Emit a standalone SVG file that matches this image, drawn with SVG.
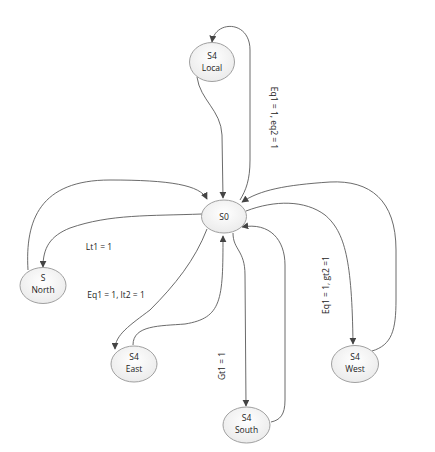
<svg xmlns="http://www.w3.org/2000/svg" width="435" height="452" viewBox="0 0 435 452">
  <defs>
    <radialGradient id="nodeFill" cx="50%" cy="40%" r="60%">
      <stop offset="0" stop-color="#ffffff"/>
      <stop offset="1" stop-color="#ebebeb"/>
    </radialGradient>
    <marker id="arrow" viewBox="0 0 10 10" refX="9" refY="5" markerWidth="7" markerHeight="7" markerUnits="userSpaceOnUse" orient="auto">
      <path d="M0,0 L10,5 L0,10 z" fill="#444"/>
    </marker>
  </defs>
  <style>
    .node ellipse { fill: url(#nodeFill); stroke: #a0a0a0; stroke-width: 1; }
    .node text { font-family: "Open Sans", "Liberation Sans", sans-serif; font-size: 8.5px; fill: #222; text-anchor: middle; }
    .edge { fill: none; stroke: #5a5a5a; stroke-width: 0.9; marker-end: url(#arrow); }
    .label { font-family: "Open Sans", "Liberation Sans", sans-serif; font-size: 8.5px; fill: #222; text-anchor: middle; }
  </style>
  <rect width="435" height="452" fill="#ffffff"/>

  <g id="connectors">
    <!-- Local <-> S0 -->
    <path class="edge" d="M197,77 C200,100 221,110 222,135 L223,198"/>
    <path class="edge" d="M240,200 C246,190 250,180 250,160 L250,50 C250,20 215,20 212,42"/>
    <!-- North <-> S0 -->
    <path class="edge" d="M28,270 C25,220 40,180 110,180 C170,180 200,185 207,199"/>
    <path class="edge" d="M202,214 C150,216 110,214 70,228 C50,236 43,248 43,267"/>
    <!-- East <-> S0 -->
    <path class="edge" d="M207,229 C195,260 175,285 150,310 C130,325 115,335 115,349"/>
    <path class="edge" d="M133,345 C133,325 160,326 185,324 C222,318 223,300 223,236"/>
    <!-- South <-> S0 -->
    <path class="edge" d="M233,233 C233,250 245,250 245,275 L246,406"/>
    <path class="edge" d="M271,422 C280,420 285,415 285,400 L285,265 C285,240 270,222 242,227"/>
    <!-- West <-> S0 -->
    <path class="edge" d="M246,211 C275,200 305,200 325,215 C345,232 352,260 353,344"/>
    <path class="edge" d="M372,351 C392,345 396,330 396,300 L396,250 C396,200 370,180 330,182 C285,185 260,190 242,202"/>
  </g>

  <g id="labels">
    <text class="label" transform="translate(271,118) rotate(90)">Eq1 = 1, eq2 = 1</text>
    <text class="label" x="99" y="250">Lt1 = 1</text>
    <text class="label" x="116" y="298">Eq1 = 1, lt2 = 1</text>
    <text class="label" transform="translate(225,366) rotate(-90)">Gt1 = 1</text>
    <text class="label" transform="translate(329,285) rotate(-90)">Eq1 = 1, gt2 =1</text>
  </g>

  <g id="node-local" class="node">
    <ellipse cx="212" cy="62" rx="22.5" ry="19.5"/>
    <text x="212" y="59">S4</text>
    <text x="212" y="71">Local</text>
  </g>
  <g id="node-s0" class="node">
    <ellipse cx="224" cy="216.5" rx="22.5" ry="16.5"/>
    <text x="224" y="219.5">S0</text>
  </g>
  <g id="node-north" class="node">
    <ellipse cx="43" cy="285.5" rx="23" ry="18"/>
    <text x="43" y="281">S</text>
    <text x="43" y="293">North</text>
  </g>
  <g id="node-east" class="node">
    <ellipse cx="134" cy="364" rx="23" ry="18"/>
    <text x="134" y="360">S4</text>
    <text x="134" y="372">East</text>
  </g>
  <g id="node-south" class="node">
    <ellipse cx="246.5" cy="425" rx="23.5" ry="18"/>
    <text x="246.5" y="421">S4</text>
    <text x="246.5" y="433">South</text>
  </g>
  <g id="node-west" class="node">
    <ellipse cx="355" cy="364" rx="23.5" ry="18.5"/>
    <text x="355" y="360">S4</text>
    <text x="355" y="372">West</text>
  </g>
</svg>
